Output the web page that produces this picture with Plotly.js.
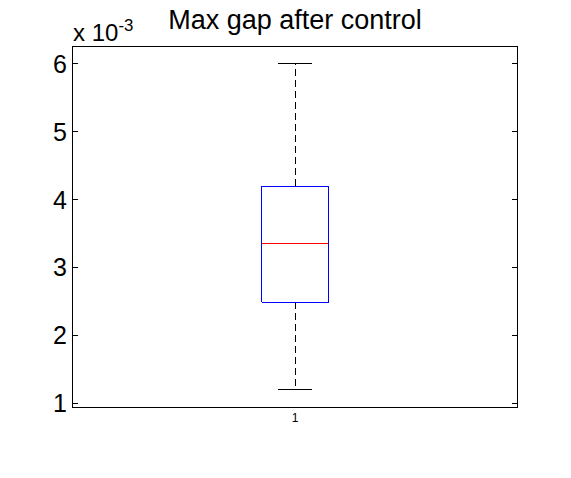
<!DOCTYPE html>
<html>
<head>
<meta charset="utf-8">
<script src="https://cdn.plot.ly/plotly-3.0.1.min.js"></script>
<style>
html,body{margin:0;padding:0;background:#fff;}
#chart{width:571px;height:478px;}
#chart path.js-line{shape-rendering:crispEdges;}
</style>
</head>
<body>
<div id="chart"></div>
<script>
// ---- data ----
const categories = [1];
const xTickLabels = ['1'];
const lowerWhisker = [0.00120];
const q1 = [0.00249];
const medianVals = [0.00336];
const q3 = [0.00420];
const upperWhisker = [0.00600];
const yTickVals = [0.001, 0.002, 0.003, 0.004, 0.005, 0.006];
const yTickLabels = ['1', '2', '3', '4', '5', '6'];
const titleText = 'Max gap after control';
const exponentText = 'x 10<sup>-3</sup>';

// ---- drawing ----
const boxHalf = 0.075, capHalf = 0.039;
const traces = [];
categories.forEach((c, i) => {
  traces.push({ // whiskers
    type: 'scatter', mode: 'lines', hoverinfo: 'skip', showlegend: false,
    x: [c, c, null, c, c],
    y: [q3[i], upperWhisker[i], null, q1[i], lowerWhisker[i]],
    line: {color: '#000000', width: 1, dash: '7px,4px'}
  });
  traces.push({ // caps
    type: 'scatter', mode: 'lines', hoverinfo: 'skip', showlegend: false,
    x: [c - capHalf, c + capHalf, null, c - capHalf, c + capHalf],
    y: [upperWhisker[i], upperWhisker[i], null, lowerWhisker[i], lowerWhisker[i]],
    line: {color: '#000000', width: 1}
  });
  traces.push({ // box
    type: 'scatter', mode: 'lines', hoverinfo: 'skip', showlegend: false,
    x: [c - boxHalf, c + boxHalf, c + boxHalf, c - boxHalf, c - boxHalf],
    y: [q1[i], q1[i], q3[i], q3[i], q1[i]],
    line: {color: '#0000ff', width: 1}
  });
  traces.push({ // median
    type: 'scatter', mode: 'lines', hoverinfo: 'skip', showlegend: false,
    x: [c - boxHalf, c + boxHalf],
    y: [medianVals[i], medianVals[i]],
    line: {color: '#ff0000', width: 1}
  });
});

const font = 'Liberation Sans, Arial, Helvetica, sans-serif';
const layout = {
  width: 571, height: 478,
  margin: {l: 73, r: 54, t: 47, b: 71, pad: 0},
  paper_bgcolor: '#ffffff', plot_bgcolor: '#ffffff',
  font: {family: font, color: '#000000'},
  title: {
    text: titleText, font: {family: font, size: 27, color: '#000000'},
    x: 0.5, xanchor: 'center', xref: 'paper',
    y: 1 - 29 / 478, yanchor: 'bottom', yref: 'container'
  },
  xaxis: {
    range: [0.5, 1.5], tickmode: 'array', tickvals: categories, ticktext: xTickLabels,
    ticks: '', showgrid: false, zeroline: false,
    showline: true, mirror: true, linecolor: '#000000', linewidth: 1,
    tickfont: {family: font, size: 12, color: '#000000'}
  },
  yaxis: {
    range: [0.000948, 0.00625], tickmode: 'array', tickvals: yTickVals, ticktext: yTickLabels,
    ticks: 'inside', ticklen: 5, tickcolor: '#000000', tickwidth: 1,
    showgrid: false, zeroline: false,
    showline: true, mirror: 'ticks', linecolor: '#000000', linewidth: 1,
    tickfont: {family: font, size: 25, color: '#000000'}
  },
  annotations: [{
    text: exponentText, xref: 'paper', yref: 'paper', x: 0, y: 1,
    xanchor: 'left', yanchor: 'bottom', yshift: -1, xshift: -2, showarrow: false,
    font: {family: font, size: 24, color: '#000000'}
  }],
  showlegend: false
};

Plotly.newPlot('chart', traces, layout, {displayModeBar: false, staticPlot: true});
</script>
</body>
</html>
